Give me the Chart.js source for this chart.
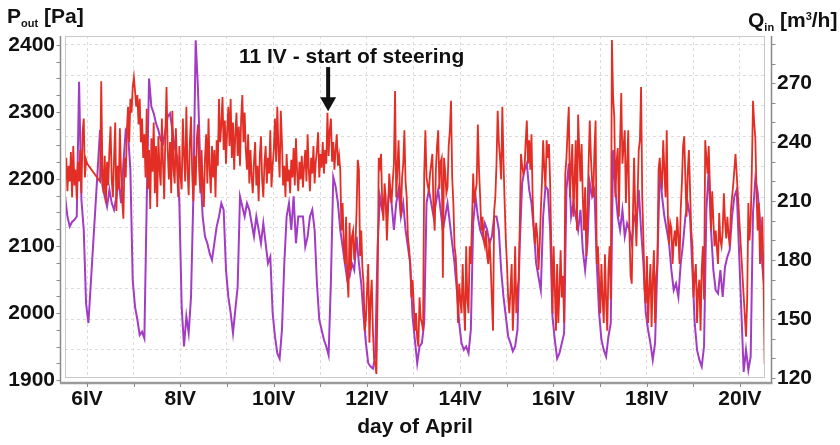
<!DOCTYPE html>
<html>
<head>
<meta charset="utf-8">
<script src="https://cdn.jsdelivr.net/npm/chart.js@4.4.1/dist/chart.umd.min.js"></script>
<style>
  html, body { margin: 0; padding: 0; background: #fff; }
  #wrap { position: relative; width: 840px; height: 445px; font-family: 'Liberation Sans', Arial, sans-serif; font-weight: bold; color: #111; }
  #wrap canvas { position: absolute; left: 0; top: 0; }
  .lbl { position: absolute; font-size: 21px; line-height: 21px; white-space: nowrap; }
  .sub { font-size: 11px; position: relative; top: 4px; }
  .sup { font-size: 11px; position: relative; top: -7px; }
</style>
</head>
<body>
<div id="wrap">
  <canvas id="chart" width="840" height="445"></canvas>
  <div class="lbl" style="left:7px;top:5px">P<span class="sub">out</span> [Pa]</div>
  <div class="lbl" style="left:748px;top:9px">Q<span class="sub">in</span> [m<span class="sup">3</span>/h]</div>
  <div class="lbl" style="left:239px;top:45px">11 IV - start of steering</div>
</div>
<script>
// both series start on 5.53 April; null = no data (the line bridges it)
const sampleStart = 5.53;
const pStep = 0.05;     // days between pressure samples
const qStep = 0.025;    // days between flow samples

// outlet pressure [Pa], left axis
const pOut = [
  2174, 2144, 2129, 2136, 2139, 2144, 2345, 2169, 2124, 2014,
  1985, null, null, null, null, 2273, 2190, 2174, 2159, 2184,
  2164, 2154, 2174, 2199, 2164, 2223, 2273, 2268, 2213, 2049,
  2009, 1990, 1967, 1972, 1962, 2164, 2350, 2308, 2298, 2283,
  2273, 2258, 2253, 2273, 2293, 2298, 2273, 2248, 2233, 2164,
  2009, 1950, 1995, 1970, 2024, 2174, 2407, 2333, 2213, 2144,
  2114, 2104, 2089, 2079, 2104, 2129, 2144, 2164, 2154, 2064,
  2024, 2000, 1970, 2005, 2039, 2174, 2159, 2144, 2164, 2154,
  2134, 2114, 2144, 2124, 2104, 2134, 2104, 2074, 2084, 2000,
  1965, 1940, 1932, 1975, 2074, 2144, 2164, 2124, 2174, 2104,
  2144, 2144, 2144, 2099, 2114, 2144, 2154, 2124, 2044, 1990,
  1975, 1960, 1950, 1937, 2049, 2203, 2189, 2164, 2124, 2099,
  2074, 2049, 2054, 2074, 2064, 2114, 2074, 2044, 1995, 1955,
  1925, 1920, 1917, 1935, 2099, 2174, 2154, 2174, 2144, 2184,
  2164, 2124, 2164, 2184, 2144, 2164, 2124, 2099, 2074, 1995,
  1960, 1925, 1950, 1955, 1985, 2164, 2184, 2164, 2144, 2164,
  2184, 2154, 2124, 2144, 2164, 2134, 2104, 2074, 2034, 1985,
  1955, 1945, 1950, 1940, 1975, 2134, 2174, 2144, 2124, 2114,
  2134, 2124, 2104, 2114, 2144, 2144, 2124, 2064, 2024, 1995,
  1965, 1955, 1943, 1950, 1975, 2104, 2194, 2213, 2223, 2184,
  2164, 2124, 2074, 2054, 2034, 2144, 2189, 2184, 2124, 1995,
  1960, 1932, 1940, 1955, 1970, 2184, 2223, 2144, 2164, 2144,
  2124, 2154, 2094, 2064, 2104, 2194, 2174, 2184, 2074, 2000,
  1960, 1945, 1935, 1965, 1985, 2243, 2184, 2144, 2124, 2154,
  2114, 2134, 2124, 2104, 2144, 2134, 2184, 2124, 2074, 2000,
  1975, 1955, 1930, 1955, 2074, 2213, 2174, 2144, 2124, 2104,
  2064, 2034, 2044, 2024, 2074, 2104, 2144, 2164, 2144, 2064,
  1985, 1945, 1930, 1920, 1950, 2154, 2213, 2124, 2064, 2034,
  2029, 2064, 2024, 2069, 2084, 2094, 2144, 2174, 2184, null,
  null, 1912, 1945, 1915, 1935, 2150, 2200, 2180, 2140, 2070,
  2030
];

// inlet flow [m3/h], right axis
const qIn = [
  224, 232, 215, 228, 220, 235, 212, 238, 218, 226, 211, 230, 220, 236, 214, 245, 252, 222, 231, 229,
  null, null, null, null, null, null, null, null, null, null, 220, 271, 226, 214, 233, 209, 230, 218, 236, 248,
  221, 212, 232, 250, 205, 228, 216, 247, 224, 210, 201, 232, 222, 246, 258, 240, 262, 255, 268, 273,
  266, 258, 264, 249, 262, 240, 252, 232, 244, 222, 257, 216, 236, 206, 242, 225, 250, 214, 238, 207,
  243, 226, 218, 252, 229, 211, 244, 268, 236, 221, 240, 214, 256, 226, 219, 247, 228, 212, 238, 222,
  216, 252, 234, 220, 258, 226, 213, 240, 253, 224, 210, 233, 218, 242, 249, 226, 214, 236, 220, 207,
  232, 244, 219, 252, 226, 214, 238, 222, 236, 212, 241, 228, 262, 240, 249, 263, 236, 251, 229, 246,
  258, 238, 262, 232, 250, 226, 244, 255, 233, 248, 228, 252, 264, 240, 255, 236, 226, 244, 219, 236,
  222, 214, 230, 240, 218, 228, 210, 233, 243, 221, 212, 229, 238, 219, 232, 224, 246, 217, 228, 236,
  252, 230, 258, 236, 222, 256, 240, 218, 228, 212, 234, 220, 226, 214, 231, 222, 237, 218, 242, 225,
  215, 230, 221, 233, 217, 228, 236, 220, 244, 226, 215, 232, 224, 238, 219, 230, 236, 245, 222, 234,
  227, 240, 224, 236, 229, 255, 233, 246, 252, 230, 240, 226, 236, 244, 228, 233, 226, 195, 209, 188,
  178, 202, 172, 161, 199, 175, 192, 195, 180, 188, 205, 231, 226, 182, 195, 176, 168, 144, 150, 165,
  178, 138, 160, 170, 144, 130, 127, 122, 161, 232, 228, 234, 208, 200, 219, 212, 190, 206, 224, 216,
  209, 220, 229, 266, 212, 226, 241, 218, 202, 222, 229, 246, 220, 212, 192, 186, 178, 161, 170, 158,
  144, 153, 140, 136, 161, 150, 148, 144, 224, 246, 222, 218, 215, 224, 229, 234, 205, 195, 226, 238,
  246, 216, 230, 232, 171, 232, 225, 214, 217, 238, 246, 261, 222, 209, 187, 182, 170, 148, 168, 160,
  153, 178, 158, 144, 187, 160, 153, 187, 178, 200, 224, 209, 215, 219, 249, 226, 212, 195, 202, 190,
  187, 195, 182, 178, 191, 178, 160, 144, 205, 212, 229, 256, 240, 232, 221, 258, 230, 209, 190, 178,
  161, 153, 165, 178, 144, 160, 187, 153, 165, 170, 199, 234, 228, 224, 226, 240, 251, 229, 241, 226,
  244, 212, 195, 188, 199, 192, 175, 187, 205, 220, 241, 226, 217, 241, 232, 239, 219, 187, 153, 187,
  166, 144, 178, 148, 165, 185, 161, 172, 148, 224, 232, 246, 258, 212, 226, 239, 202, 222, 241, 195,
  254, 236, 220, 239, 212, 195, 217, 182, 204, 229, 251, 232, 220, 212, 236, 251, 178, 187, 170, 153,
  178, 160, 148, 183, 160, 144, 175, 187, 160, 292, 263, 253, 212, 230, 237, 202, 240, 265, 229, 238,
  246, 209, 228, 246, 195, 172, 168, 203, 232, 205, 187, 212, 236, 241, 268, 212, 191, 165, 158, 182,
  148, 165, 178, 146, 170, 185, 148, 172, 178, 226, 232, 222, 219, 241, 225, 212, 246, 202, 188, 199,
  196, 178, 190, 195, 187, 202, 192, 178, 206, 219, 238, 243, 221, 202, 224, 236, 216, 195, 187, 161,
  172, 178, 148, 165, 170, 144, 175, 187, 160, 241, 232, 224, 238, 218, 195, 215, 200, 187, 195, 186,
  178, 204, 190, 187, 195, 214, 200, 191, 202, 193, 187, 205, 212, 218, 226, 234, null, null, null, null,
  null, null, null, null, 141, 160, 209, 190, 200, 226, 261, 250, 242, 214, 195, 209, 178, 190, 202, 171,
  127
];

const dayTicks = [6, 7, 8, 9, 10, 11, 12, 13, 14, 15, 16, 17, 18, 19, 20];
const pTicks = [1900, 2000, 2100, 2200, 2300, 2400];
const qTicks = [120, 150, 180, 210, 240, 270];
const gridParts = 11;          // horizontal grid splits 1900..2400 in 11 parts

// arrow marking the start of steering (day, from/to on the Pa axis)
const steeringDay = 11.17;
const arrowFrom = 2367;
const arrowTo = 2301;

const toPoints = (vals, step) => vals.map((v, i) => ({ x: +(sampleStart + i * step).toFixed(3), y: v }));

const font = { family: "'Liberation Sans', Arial, sans-serif", size: 21, weight: 'bold' };
const pMin = 1903, pMax = 2413.4;

// gray box round the plot, detached axis lines with their tick marks, arrow
const frame = {
  id: 'frame',
  afterDraw(chart) {
    const { ctx, chartArea: a, scales } = chart;
    ctx.save();
    ctx.strokeStyle = '#c8c8c8';
    ctx.lineWidth = 1;
    ctx.strokeRect(a.left + 0.5, a.top + 0.5, a.width - 1, a.height - 1);

    const lx = a.left - 4.5, rx = a.right + 6.5, by = a.bottom + 5;
    ctx.strokeStyle = '#8a8a8a';
    ctx.lineWidth = 1.5;
    ctx.beginPath();
    ctx.moveTo(lx, a.top); ctx.lineTo(lx, by);
    ctx.moveTo(rx, a.top); ctx.lineTo(rx, by);
    ctx.stroke();
    ctx.lineWidth = 2.5;
    ctx.strokeStyle = '#9a9a9a';
    ctx.beginPath();
    ctx.moveTo(a.left - 5, by); ctx.lineTo(rx + 1, by);
    ctx.stroke();

    ctx.lineWidth = 1;
    ctx.strokeStyle = '#8a8a8a';
    ctx.beginPath();
    for (let v = 1900; v <= 2400; v += 25) {
      const y = Math.round(scales.yP.getPixelForValue(v)) + 0.5;
      ctx.moveTo(lx - 4, y); ctx.lineTo(lx, y);
    }
    for (let v = 120; v <= 290; v += 10) {
      const y = Math.round(scales.yQ.getPixelForValue(v)) + 0.5;
      ctx.moveTo(rx, y); ctx.lineTo(rx + 4, y);
    }
    dayTicks.forEach(d => {
      const x = Math.round(scales.x.getPixelForValue(d)) + 0.5;
      ctx.moveTo(x, by); ctx.lineTo(x, by + 4);
    });
    ctx.stroke();

    const ax = scales.x.getPixelForValue(steeringDay);
    const y0 = scales.yP.getPixelForValue(arrowFrom);
    const y1 = scales.yP.getPixelForValue(arrowTo);
    ctx.fillStyle = '#111';
    ctx.fillRect(ax - 2, y0, 4, y1 - y0 - 12);
    ctx.beginPath();
    ctx.moveTo(ax - 8, y1 - 14);
    ctx.lineTo(ax + 8, y1 - 14);
    ctx.lineTo(ax, y1);
    ctx.closePath();
    ctx.fill();
    ctx.restore();
  }
};

new Chart(document.getElementById('chart'), {
  type: 'line',
  data: {
    datasets: [{
      label: 'Q_in',
      data: toPoints(qIn, qStep),
      yAxisID: 'yQ',
      borderColor: '#e22e24',
      borderWidth: 1.8,
      pointRadius: 0,
      spanGaps: true,
      tension: 0
    }, {
      label: 'P_out',
      data: toPoints(pOut, pStep),
      yAxisID: 'yP',
      borderColor: '#a33cc4',
      borderWidth: 2,
      pointRadius: 0,
      spanGaps: true,
      tension: 0
    }]
  },
  options: {
    responsive: false,
    animation: false,
    events: [],
    layout: { padding: { top: 36, left: 0, right: 0, bottom: 0 } },
    plugins: { legend: { display: false }, tooltip: { enabled: false } },
    scales: {
      x: {
        type: 'linear',
        min: 5.528,
        max: 20.537,
        afterFit: s => { s.height = 67; },
        afterBuildTicks: s => { s.ticks = dayTicks.map(v => ({ value: v })); },
        ticks: {
          font, color: '#111', padding: 9, maxRotation: 0, autoSkip: false,
          callback: v => (v % 2 === 0 ? v + 'IV' : '')
        },
        grid: { color: '#dcdcdc', drawTicks: false },
        border: { display: false, dash: [3, 3] },
        title: { display: true, text: 'day of April', font, color: '#111', padding: { top: 0, bottom: 5 } }
      },
      yP: {
        position: 'left',
        min: pMin,
        max: pMax,
        afterFit: s => { s.width = 65; },
        afterBuildTicks: s => { s.ticks = pTicks.map(v => ({ value: v })); },
        ticks: { font, color: '#111', padding: 10, callback: v => String(v) },
        grid: { display: false, drawTicks: false },
        border: { display: false }
      },
      yG: {
        position: 'left',
        min: pMin,
        max: pMax,
        afterFit: s => { s.width = 0; },
        afterBuildTicks: s => {
          const t = [];
          for (let k = 1; k <= gridParts; k++) t.push({ value: 1900 + k * 500 / gridParts });
          s.ticks = t;
        },
        ticks: { display: false },
        grid: { color: '#dcdcdc', drawTicks: false },
        border: { display: false, dash: [3, 3] }
      },
      yQ: {
        position: 'right',
        min: 120,
        max: 294,
        afterFit: s => { s.width = 75; },
        afterBuildTicks: s => { s.ticks = qTicks.map(v => ({ value: v })); },
        ticks: { font, color: '#111', padding: 12, callback: v => String(v) },
        grid: { display: false, drawTicks: false },
        border: { display: false }
      }
    }
  },
  plugins: [frame]
});
</script>
</body>
</html>
